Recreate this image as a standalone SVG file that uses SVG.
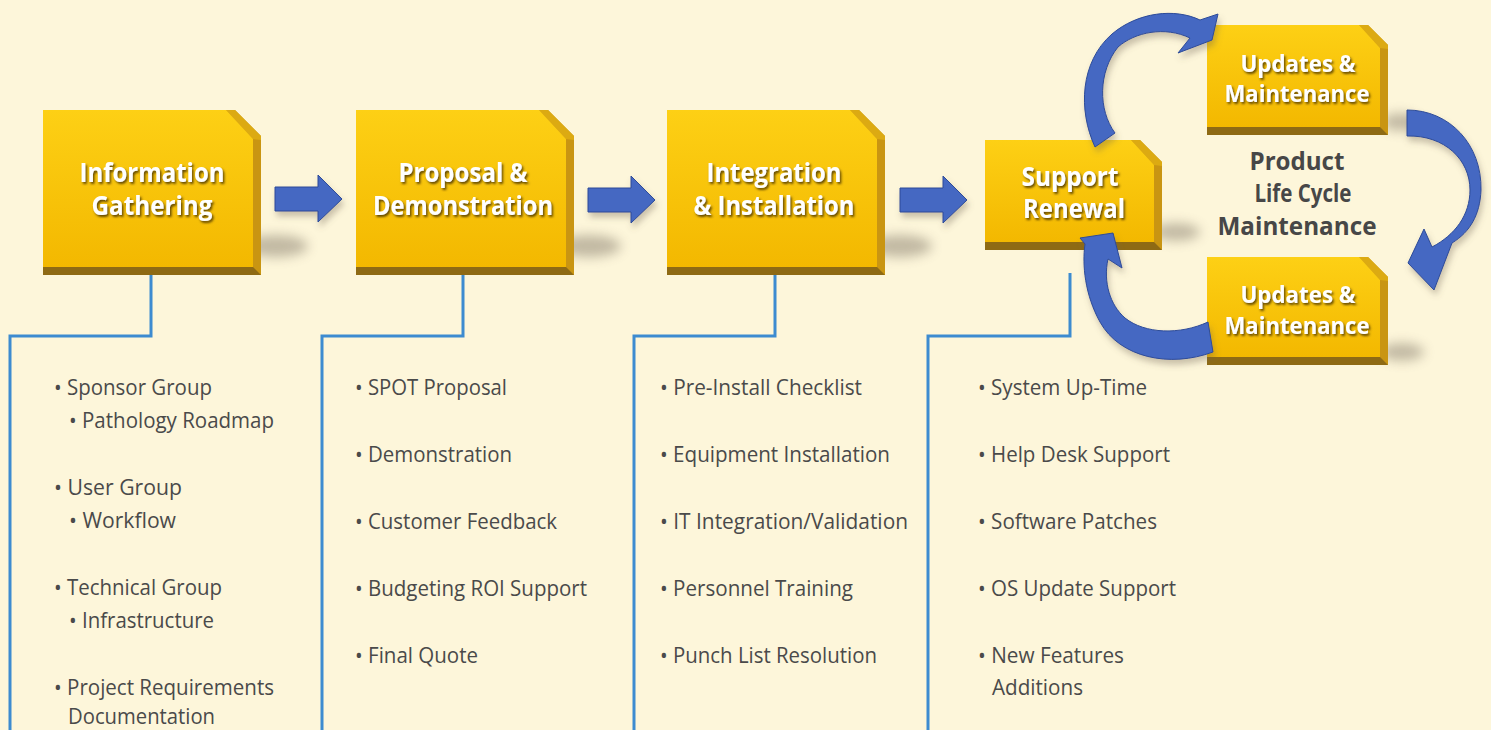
<svg xmlns="http://www.w3.org/2000/svg" width="1491" height="730" viewBox="0 0 1491 730">
<style>
.bev{fill:#c99512}
.chm{fill:#dcaa12}
.front{fill:url(#gold)}
.bot{fill:#8e6a14}
.title{font-family:"Open Sans","Liberation Sans",sans-serif;font-weight:700;font-size:27px;fill:#ffffff;text-anchor:middle;filter:url(#tshadow)}
.title2{font-size:23px}
.plc{font-family:"Open Sans","Liberation Sans",sans-serif;font-weight:700;font-size:25px;fill:#474747;text-anchor:middle}
.item{font-family:"Open Sans","Liberation Sans",sans-serif;font-size:21px;fill:#4a4a4a}
.tree{fill:none;stroke:#3d8bd0;stroke-width:3}
.barrow{fill:#4468c2;stroke:#2d4b98;stroke-width:1;filter:url(#ashadow)}
.shadow{fill:#7a7060;opacity:0.45;filter:url(#blur)}
</style>
<defs>
<linearGradient id="gold" x1="0" y1="0" x2="0" y2="1">
<stop offset="0" stop-color="#fdd015"/>
<stop offset="1" stop-color="#f3b800"/>
</linearGradient>
<filter id="tshadow" x="-20%" y="-40%" width="140%" height="180%">
<feDropShadow dx="1.5" dy="2" stdDeviation="1.3" flood-color="#4a3300" flood-opacity="0.85"/>
</filter>
<filter id="ashadow" x="-20%" y="-20%" width="150%" height="150%">
<feDropShadow dx="2" dy="5" stdDeviation="3" flood-color="#6b6050" flood-opacity="0.35"/>
</filter>
<filter id="blur" x="-50%" y="-100%" width="200%" height="300%">
<feGaussianBlur stdDeviation="6"/>
</filter>
<path id="sarrow" d="M0,-12 L43,-12 L43,-24 L67,0 L43,23 L43,12 L0,12 Z"/>
</defs>
<rect width="1491" height="730" fill="#fdf6da"/>

<g id="shadows">
<ellipse class="shadow" cx="276" cy="246" rx="32" ry="11"/>
<ellipse class="shadow" cx="589" cy="246" rx="32" ry="11"/>
<ellipse class="shadow" cx="900" cy="246" rx="32" ry="11"/>
<ellipse class="shadow" cx="1176" cy="232" rx="24" ry="9"/>
<ellipse class="shadow" cx="1400" cy="122" rx="18" ry="9"/>
<ellipse class="shadow" cx="1402" cy="352" rx="22" ry="9"/>
</g>

<g id="connectors">
<path class="tree" d="M151,275 V336 H10 V730"/>
<path class="tree" d="M463,275 V336 H322 V730"/>
<path class="tree" d="M775,275 V336 H634 V730"/>
<path class="tree" d="M1070,273 V336 H928 V730"/>
<use href="#sarrow" class="barrow" transform="translate(275,199)"/>
<use href="#sarrow" class="barrow" transform="translate(588,200)"/>
<use href="#sarrow" class="barrow" transform="translate(900,200)"/>
</g>

<g id="node-info">
<polygon class="bev" points="43,110 235,110 261,136 261,275 43,275"/>
<polygon class="chm" points="226,110 235,110 261,136 261,140 253,139"/>
<polygon class="front" points="43,110 226,110 253,139 253,267 43,267"/>
<polygon class="bot" points="43,267 253,267 261,275 43,275"/>
<text class="title" x="152" y="182" textLength="145" lengthAdjust="spacingAndGlyphs">Information</text>
<text class="title" x="152" y="215" textLength="121" lengthAdjust="spacingAndGlyphs">Gathering</text>
</g>

<g id="node-proposal">
<polygon class="bev" points="356,110 548,110 574,136 574,275 356,275"/>
<polygon class="chm" points="539,110 548,110 574,136 574,140 566,139"/>
<polygon class="front" points="356,110 539,110 566,139 566,267 356,267"/>
<polygon class="bot" points="356,267 566,267 574,275 356,275"/>
<text class="title" x="463" y="182" textLength="129" lengthAdjust="spacingAndGlyphs">Proposal &amp;</text>
<text class="title" x="463" y="215" textLength="180" lengthAdjust="spacingAndGlyphs">Demonstration</text>
</g>

<g id="node-integration">
<polygon class="bev" points="667,110 859,110 885,136 885,275 667,275"/>
<polygon class="chm" points="850,110 859,110 885,136 885,140 877,139"/>
<polygon class="front" points="667,110 850,110 877,139 877,267 667,267"/>
<polygon class="bot" points="667,267 877,267 885,275 667,275"/>
<text class="title" x="774" y="182" textLength="135" lengthAdjust="spacingAndGlyphs">Integration</text>
<text class="title" x="774" y="215" textLength="161" lengthAdjust="spacingAndGlyphs">&amp; Installation</text>
</g>

<g id="node-support">
<polygon class="bev" points="985,140 1140,140 1162,162 1162,250 985,250"/>
<polygon class="chm" points="1131,140 1140,140 1162,162 1162,166 1154,165"/>
<polygon class="front" points="985,140 1131,140 1154,165 1154,242 985,242"/>
<polygon class="bot" points="985,242 1154,242 1162,250 985,250"/>
<text class="title" x="1070" y="186" textLength="97" lengthAdjust="spacingAndGlyphs">Support</text>
<text class="title" x="1074" y="218" textLength="102" lengthAdjust="spacingAndGlyphs">Renewal</text>
</g>

<g id="node-updates-top">
<polygon class="bev" points="1207,25 1368,25 1388,45 1388,135 1207,135"/>
<polygon class="chm" points="1359,25 1368,25 1388,45 1388,49 1380,48"/>
<polygon class="front" points="1207,25 1359,25 1380,48 1380,127 1207,127"/>
<polygon class="bot" points="1207,127 1380,127 1388,135 1207,135"/>
<text class="title title2" x="1298" y="72" textLength="115" lengthAdjust="spacingAndGlyphs">Updates &amp;</text>
<text class="title title2" x="1297" y="102" textLength="145" lengthAdjust="spacingAndGlyphs">Maintenance</text>
</g>

<g id="node-updates-bottom">
<polygon class="bev" points="1207,257 1368,257 1388,277 1388,365 1207,365"/>
<polygon class="chm" points="1359,257 1368,257 1388,277 1388,281 1380,280"/>
<polygon class="front" points="1207,257 1359,257 1380,280 1380,357 1207,357"/>
<polygon class="bot" points="1207,357 1380,357 1388,365 1207,365"/>
<text class="title title2" x="1298" y="303" textLength="115" lengthAdjust="spacingAndGlyphs">Updates &amp;</text>
<text class="title title2" x="1297" y="334" textLength="145" lengthAdjust="spacingAndGlyphs">Maintenance</text>
</g>

<g id="cycle-arrows">
<path class="barrow" d="M1095,147 C1078,110 1080,62 1112,34 C1138,12 1175,8 1200,20 L1218,14 L1212,40 L1178,53 L1190,38 C1165,26 1135,32 1118,47 C1098,72 1098,110 1115,133 Z"/>
<path class="barrow" d="M1407,110 C1450,110 1482,145 1481,190 C1480,215 1470,232 1452,243 L1434,290 L1408,263 L1424,229 L1432,247 C1455,235 1470,215 1470,190 C1470,160 1445,135 1407,136 Z"/>
<path class="barrow" d="M1213,352 C1170,368 1120,358 1100,322 C1085,295 1082,265 1085,244 L1080,238 L1113,233 L1122,268 L1108,259 C1103,282 1110,305 1125,318 C1145,334 1180,335 1208,322 Z"/>
</g>

<g id="plc-label">
<text class="plc" x="1297" y="170" textLength="95" lengthAdjust="spacingAndGlyphs">Product</text>
<text class="plc" x="1303" y="202" textLength="97" lengthAdjust="spacingAndGlyphs">Life Cycle</text>
<text class="plc" x="1297" y="235" textLength="159" lengthAdjust="spacingAndGlyphs">Maintenance</text>
</g>

<g id="list-info">
<text class="item" x="54" y="395" textLength="158" lengthAdjust="spacingAndGlyphs">• Sponsor Group</text>
<text class="item" x="69" y="428" textLength="205" lengthAdjust="spacingAndGlyphs">• Pathology Roadmap</text>
<text class="item" x="54" y="495" textLength="128" lengthAdjust="spacingAndGlyphs">•  User Group</text>
<text class="item" x="69" y="528" textLength="107" lengthAdjust="spacingAndGlyphs">• Workflow</text>
<text class="item" x="54" y="595" textLength="168" lengthAdjust="spacingAndGlyphs">• Technical Group</text>
<text class="item" x="69" y="628" textLength="145" lengthAdjust="spacingAndGlyphs">• Infrastructure</text>
<text class="item" x="54" y="695" textLength="220" lengthAdjust="spacingAndGlyphs">• Project Requirements</text>
<text class="item" x="68" y="724" textLength="147" lengthAdjust="spacingAndGlyphs">Documentation</text>
</g>

<g id="list-proposal">
<text class="item" x="355" y="395" textLength="152" lengthAdjust="spacingAndGlyphs">• SPOT Proposal</text>
<text class="item" x="355" y="462" textLength="157" lengthAdjust="spacingAndGlyphs">• Demonstration</text>
<text class="item" x="355" y="529" textLength="202" lengthAdjust="spacingAndGlyphs">• Customer Feedback</text>
<text class="item" x="355" y="596" textLength="232" lengthAdjust="spacingAndGlyphs">• Budgeting ROI Support</text>
<text class="item" x="355" y="663" textLength="123" lengthAdjust="spacingAndGlyphs">• Final Quote</text>
</g>

<g id="list-integration">
<text class="item" x="660" y="395" textLength="202" lengthAdjust="spacingAndGlyphs">• Pre-Install Checklist</text>
<text class="item" x="660" y="462" textLength="230" lengthAdjust="spacingAndGlyphs">• Equipment Installation</text>
<text class="item" x="660" y="529" textLength="248" lengthAdjust="spacingAndGlyphs">• IT Integration/Validation</text>
<text class="item" x="660" y="596" textLength="193" lengthAdjust="spacingAndGlyphs">• Personnel Training</text>
<text class="item" x="660" y="663" textLength="217" lengthAdjust="spacingAndGlyphs">• Punch List Resolution</text>
</g>

<g id="list-support">
<text class="item" x="978" y="395" textLength="169" lengthAdjust="spacingAndGlyphs">• System Up-Time</text>
<text class="item" x="978" y="462" textLength="192" lengthAdjust="spacingAndGlyphs">• Help Desk Support</text>
<text class="item" x="978" y="529" textLength="179" lengthAdjust="spacingAndGlyphs">• Software Patches</text>
<text class="item" x="978" y="596" textLength="198" lengthAdjust="spacingAndGlyphs">• OS Update Support</text>
<text class="item" x="978" y="663" textLength="146" lengthAdjust="spacingAndGlyphs">• New Features</text>
<text class="item" x="992" y="695" textLength="91" lengthAdjust="spacingAndGlyphs">Additions</text>
</g>
</svg>
